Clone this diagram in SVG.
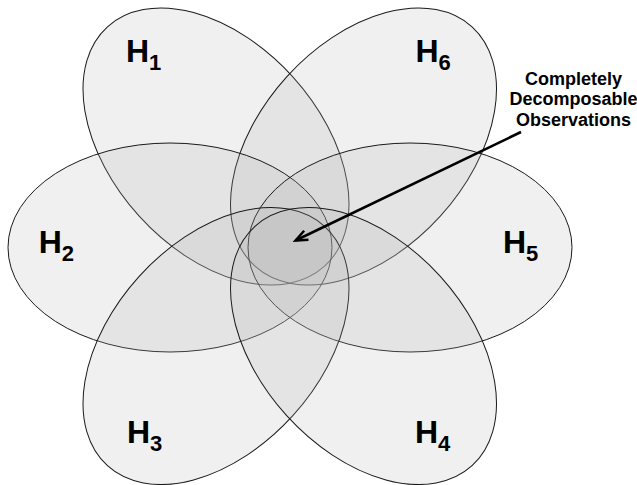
<svg xmlns="http://www.w3.org/2000/svg" width="637" height="485" viewBox="0 0 637 485">
  <style>
    .petal { fill: #b4b4b4; fill-opacity: 0.2; stroke: #1a1a1a; stroke-width: 1; }
    .lbl { font-family: "Liberation Sans", Arial, sans-serif; font-weight: bold; font-size: 32px; fill: #000; }
    .sub { font-size: 22px; }
    .note { font-family: "Liberation Sans", Arial, sans-serif; font-weight: bold; font-size: 18px; fill: #000; text-anchor: middle; }
  </style>
  <defs>
    <marker id="arrowhead" viewBox="-16 -10 22 20" refX="0" refY="0" markerWidth="22" markerHeight="20" markerUnits="userSpaceOnUse" orient="auto">
      <path d="M-12,-5 L0,0 L-12,5" fill="none" stroke="#000" stroke-width="2.5" stroke-linejoin="miter"/>
    </marker>
  </defs>
  <rect x="0" y="0" width="637" height="485" fill="#ffffff"/>

  <g id="H1">
    <ellipse class="petal" cx="0" cy="0" rx="161.6" ry="103.7" transform="translate(216,146.5) rotate(47.8)"/>
    <text class="lbl" x="126" y="62">H<tspan class="sub" dy="8">1</tspan></text>
  </g>
  <g id="H6">
    <ellipse class="petal" cx="0" cy="0" rx="161.6" ry="103.7" transform="translate(363.5,146.5) rotate(-47.8)"/>
    <text class="lbl" x="415.5" y="62">H<tspan class="sub" dy="8">6</tspan></text>
  </g>
  <g id="H2">
    <ellipse class="petal" cx="170" cy="247.5" rx="162" ry="104.5"/>
    <text class="lbl" x="38.7" y="252.7">H<tspan class="sub" dy="8">2</tspan></text>
  </g>
  <g id="H5">
    <ellipse class="petal" cx="410" cy="247.5" rx="162" ry="104.5"/>
    <text class="lbl" x="503" y="252.7">H<tspan class="sub" dy="8">5</tspan></text>
  </g>
  <g id="H3">
    <ellipse class="petal" cx="0" cy="0" rx="161.6" ry="103.7" transform="translate(216,346) rotate(-47.8)"/>
    <text class="lbl" x="127" y="442.7">H<tspan class="sub" dy="8">3</tspan></text>
  </g>
  <g id="H4">
    <ellipse class="petal" cx="0" cy="0" rx="161.6" ry="103.7" transform="translate(363.5,346) rotate(47.8)"/>
    <text class="lbl" x="415" y="442.7">H<tspan class="sub" dy="8">4</tspan></text>
  </g>

  <g id="callout">
    <text class="note" x="573.5" y="84.5">Completely</text>
    <text class="note" x="573.5" y="105">Decomposable</text>
    <text class="note" x="573.5" y="125.5">Observations</text>
  </g>

  <g id="connectors">
    <line x1="521" y1="132" x2="295.5" y2="240.5" stroke="#000" stroke-width="2.5" marker-end="url(#arrowhead)"/>
  </g>
</svg>
